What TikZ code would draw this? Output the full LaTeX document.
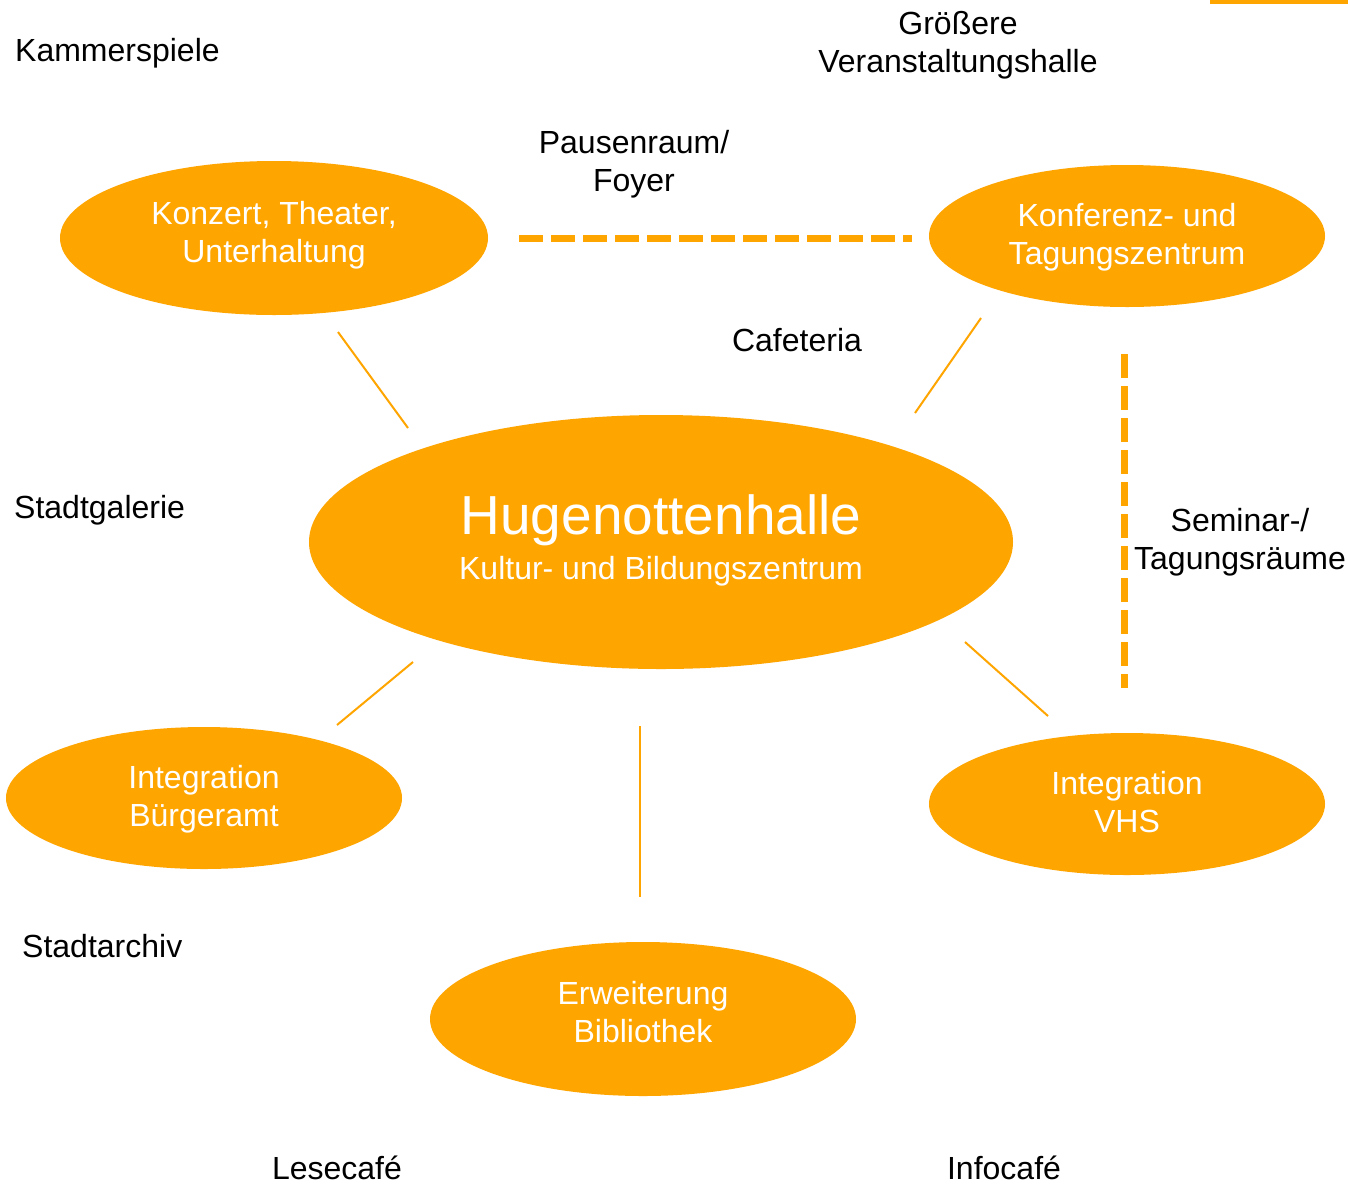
\documentclass[tikz,border=0pt]{standalone}
\usepackage{fontspec}
\setmainfont{Liberation Sans}
\usetikzlibrary{shapes.geometric}
\definecolor{hor}{HTML}{FFA500}
\tikzset{
  blob/.style={ellipse, fill=hor, draw=none, inner sep=0pt},
  lbl/.style={inner sep=0pt, align=center, text=black, font=\fontsize{32}{38.5}\selectfont},
  wlbl/.style={lbl, text=white},
  link/.style={draw=hor, line width=2pt},
  dlink/.style={draw=hor, line width=7pt, dash pattern=on 24pt off 8pt}
}
\begin{document}
\begin{tikzpicture}[x=1pt,y=-1pt]
\useasboundingbox[fill=white] (0,0) rectangle (1348,1184);
\fill[hor] (1210,0) rectangle (1348,4);
% ellipses
\node[blob, minimum width=428pt, minimum height=154pt] (konzert) at (274,238) {};
\node[blob, minimum width=396pt, minimum height=142pt] (konf) at (1127,236) {};
\node[blob, minimum width=704pt, minimum height=254pt] (hug) at (661,542) {};
\node[blob, minimum width=396pt, minimum height=142pt] (buerger) at (204,798) {};
\node[blob, minimum width=396pt, minimum height=142pt] (vhs) at (1127,804) {};
\node[blob, minimum width=426pt, minimum height=154pt] (bib) at (643,1019) {};
% ellipse texts
\node[wlbl] (konzertt) at (274,235) {Konzert, Theater,\\Unterhaltung};
\node[wlbl] (konft) at (1127,237) {Konferenz- und\\Tagungszentrum};
\node[wlbl, font=\fontsize{55}{60}\selectfont] (hugt) at (661,520) {Hugenottenhalle};
\node[wlbl] (hugs) at (661,571) {Kultur- und Bildungszentrum};
\node[wlbl] (buergert) at (204,799) {Integration\\Bürgeramt};
\node[wlbl] (vhst) at (1127,802) {Integration\\VHS};
\node[wlbl] (bibt) at (643,1012) {Erweiterung\\Bibliothek};
% labels
\node[lbl, anchor=west] (kammer) at (15,53) {Kammerspiele};
\node[lbl] (groesser) at (958,45) {Größere\\Veranstaltungshalle};
\node[lbl] (pause) at (634,164) {Pausenraum/\\Foyer};
\node[lbl] (cafe) at (797,340) {Cafeteria};
\node[lbl, anchor=west] (galerie) at (14,510) {Stadtgalerie};
\node[lbl] (seminar) at (1240,542) {Seminar-/\\Tagungsräume};
\node[lbl, anchor=west] (archiv) at (22,946) {Stadtarchiv};
\node[lbl] (lese) at (337,1168) {Lesecafé};
\node[lbl] (info) at (1004,1168) {Infocafé};
% connector end points
\coordinate (a1) at (338,332); \coordinate (a2) at (408,428);
\coordinate (b1) at (981,318); \coordinate (b2) at (915,413);
\coordinate (c1) at (413,662); \coordinate (c2) at (337,725);
\coordinate (d1) at (965,642); \coordinate (d2) at (1048,716);
\coordinate (e1) at (640,726); \coordinate (e2) at (640,897);
\coordinate (h1) at (519,238); \coordinate (h2) at (912,238);
\coordinate (v1) at (1124,354); \coordinate (v2) at (1124,688);
\draw[link] (a1) -- (a2);
\draw[link] (b1) -- (b2);
\draw[link] (c1) -- (c2);
\draw[link] (d1) -- (d2);
\draw[link] (e1) -- (e2);
\draw[dlink] (h1) -- (h2);
\draw[dlink] (v1) -- (v2);
\end{tikzpicture}
\end{document}
